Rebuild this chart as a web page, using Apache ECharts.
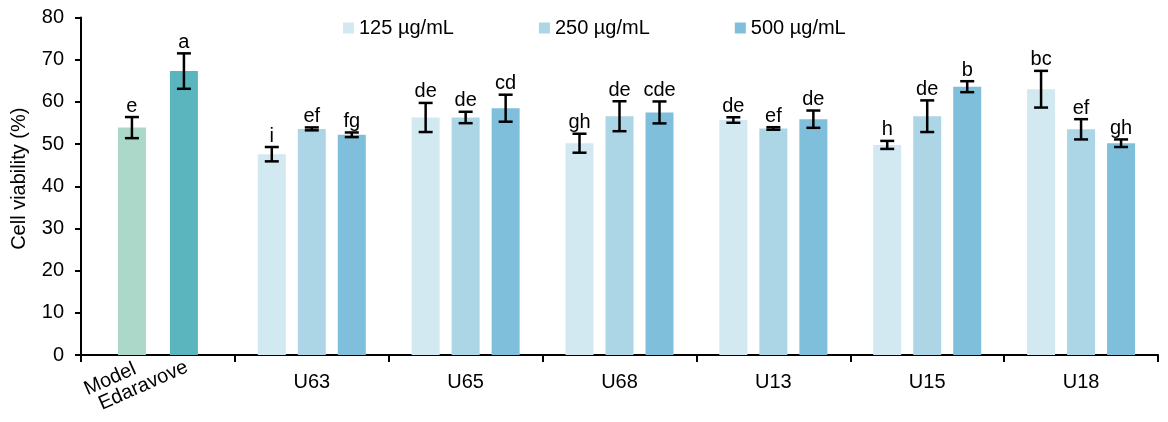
<!DOCTYPE html>
<title>viability</title>
<style>
body {
    margin: 0;
}
#echart {
    height: 422px;
    width: 1168px;
}
</style>
<div id='echart'></div>
<script src='https://cdn.jsdelivr.net/npm/echarts@6.0.0/dist/echarts.min.js'></script>
<script>
let groups = ['', 'U63', 'U65', 'U68', 'U13', 'U15', 'U18']
let controls = ['Model', 'Edaravove']
let control_values = [53.9, 67.3]
let control_errors = [2.5, 4.2]
let control_letters = ['e', 'a']
let doses = ['125 µg/mL', '250 µg/mL', '500 µg/mL']
let dose_values = [
    [47.6, 56.3, 50.2, 55.7, 49.8, 63.0],
    [53.6, 56.3, 56.6, 53.7, 56.6, 53.5],
    [52.2, 58.5, 57.5, 55.9, 63.6, 50.2],
]
let dose_errors = [
    [1.7, 3.45, 2.25, 0.65, 0.95, 4.35],
    [0.35, 1.35, 3.55, 0.3, 3.75, 2.4],
    [0.55, 3.2, 2.6, 2.05, 1.3, 0.9],
]
let dose_letters = [
    ['i', 'de', 'gh', 'de', 'h', 'bc'],
    ['ef', 'de', 'de', 'ef', 'de', 'ef'],
    ['fg', 'cd', 'cde', 'de', 'b', 'gh'],
]

let FONT = '"Liberation Sans", Arial, sans-serif'
let SIZE = 20
let control_colors = ['#acd8ca', '#5ab5bf']
let dose_colors = ['#d3e9f1', '#acd5e6', '#7fbfdb']
// where each slanted control label is pinned, relative to its bar centre on the axis
let label_shift = [[-1, 4], [-1, 2]]
let BAR = 28
let echart = echarts.init(document.querySelector('#echart'))

function error_series(name, axis, offset, rows, letters, label, shift) {
    return {
        name,
        type: 'custom',
        xAxisIndex: axis,
        z: 5,
        data: rows,
        encode: {x: 0, y: 1},
        renderItem: function (params, api) {
            let index = api.value(0)
            let value = api.value(1)
            let error = api.value(2)
            let x = api.coord([index, 0])[0] + offset
            let base = api.coord([index, 0])[1]
            let top = api.coord([index, value + error])[1]
            let bottom = api.coord([index, value - error])[1]
            let line = {stroke: '#000', lineWidth: 2.5}
            let font = SIZE + 'px ' + FONT
            let children = [
                {type: 'line', shape: {x1: x, y1: top, x2: x, y2: bottom}, style: line},
                {type: 'line', shape: {x1: x - 7, y1: top, x2: x + 7, y2: top}, style: line},
                {type: 'line', shape: {x1: x - 7, y1: bottom, x2: x + 7, y2: bottom}, style: line},
                {type: 'text', style: {text: letters[params.dataIndex], x, y: top - 1, align: 'center', verticalAlign: 'bottom', font, fill: '#000'}},
            ]
            if (label)
                children.push({type: 'text', x: x + shift[0], y: base + shift[1], rotation: 24 * Math.PI / 180,
                    style: {text: label, x: 0, y: 0, align: 'right', verticalAlign: 'top', font, fill: '#000'}})
            return {type: 'group', children}
        },
    }
}

let series = []
controls.forEach(function (name, i) {
    let data = groups.map(function (g, k) { return k == 0 ? control_values[i] : '-' })
    series.push({name, type: 'bar', xAxisIndex: 1, data, barWidth: BAR, barGap: '85.7%',
        itemStyle: {color: control_colors[i]}, emphasis: {disabled: true}})
})
doses.forEach(function (name, i) {
    let data = ['-'].concat(dose_values[i])
    series.push({name, type: 'bar', xAxisIndex: 0, data, barWidth: BAR, barGap: '42.86%',
        itemStyle: {color: dose_colors[i]}, emphasis: {disabled: true}})
})
controls.forEach(function (name, i) {
    series.push(error_series(name + ' error', 1, (i - 0.5) * 52,
        [[0, control_values[i], control_errors[i]]], [control_letters[i]], name, label_shift[i]))
})
doses.forEach(function (name, i) {
    let rows = dose_values[i].map(function (v, k) { return [k + 1, v, dose_errors[i][k]] })
    series.push(error_series(name + ' error', 0, (i - 1) * 40, rows, dose_letters[i]))
})

let axis_line = {show: true, lineStyle: {color: '#000', width: 2}}
let option = {
    animation: false,
    grid: {left: 81, right: 10, top: 17.5, bottom: 67},
    legend: {
        data: doses, top: 18, left: 343, padding: 0, itemWidth: 11, itemHeight: 11, itemGap: 85, icon: 'rect',
        textStyle: {fontFamily: FONT, fontSize: SIZE, color: '#000'},
    },
    xAxis: [
        {type: 'category', data: groups, axisLine: axis_line,
            axisTick: {show: true, length: 7, lineStyle: {color: '#000', width: 2}},
            axisLabel: {interval: 0, margin: 17, fontFamily: FONT, fontSize: SIZE, color: '#000'}},
        {type: 'category', data: groups, show: false},
    ],
    yAxis: {
        type: 'value', min: 0, max: 80, interval: 10, splitLine: {show: false},
        name: 'Cell viability (%)', nameLocation: 'middle', nameGap: 52,
        nameTextStyle: {fontFamily: FONT, fontSize: SIZE, color: '#000', padding: [0, 0, 0, 15]},
        axisLine: axis_line,
        axisTick: {show: true, length: 6, lineStyle: {color: '#000', width: 2}},
        axisLabel: {margin: 17, fontFamily: FONT, fontSize: SIZE, color: '#000'},
    },
    series,
}
echart.setOption(option)
</script>
